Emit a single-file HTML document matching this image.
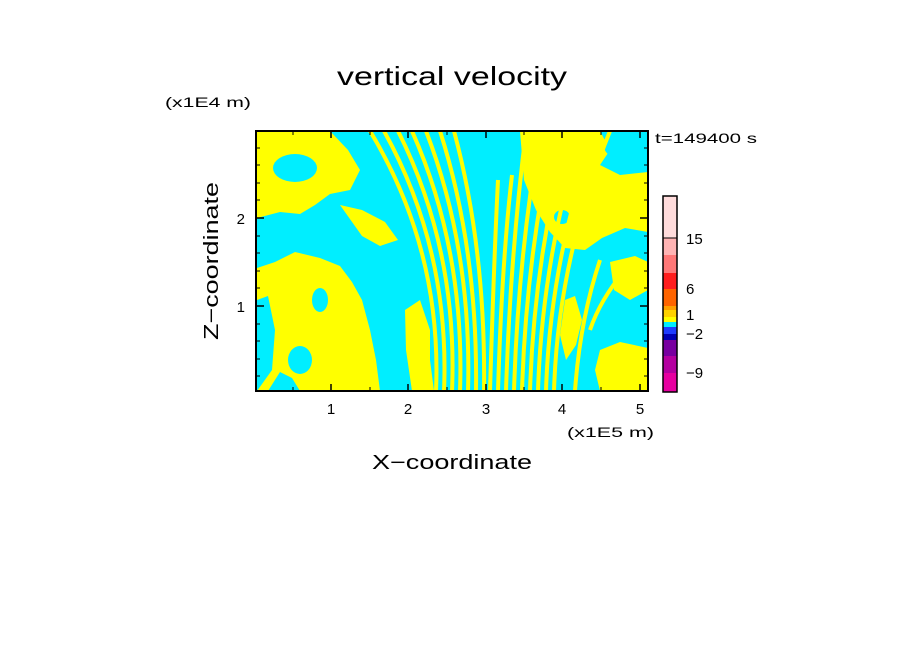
<!DOCTYPE html>
<html><head><style>
html,body{margin:0;padding:0;background:#fff;}
svg{display:block;font-family:"Liberation Sans","DejaVu Sans",sans-serif;}
</style></head><body>
<svg width="904" height="654" viewBox="0 0 904 654">
<defs><clipPath id="c"><rect x="256" y="131" width="392" height="260"/></clipPath></defs>
<g clip-path="url(#c)">
<rect x="256" y="131" width="392" height="260" fill="#00eeff"/>
<g fill="#ffff00">
<path d="M257,268 L275,262 295,252 320,258 340,266 352,282 362,300 370,330 376,360 380,391 L300,391 292,378 280,372 268,391 257,391 Z"/>
<path d="M257,131 L330,131 348,150 360,170 350,190 330,194 315,205 300,214 280,212 257,218 Z"/>
<path d="M340,205 L362,210 385,222 398,240 380,246 362,236 Z"/>
<path d="M520,131 L600,131 610,150 600,165 620,175 648,172 648,232 625,228 602,238 585,250 565,248 550,232 536,210 524,180 Z"/>
<path d="M600,350 L620,342 648,348 648,391 L600,391 595,370 Z"/>
<path d="M565,300 L575,296 582,320 576,345 566,360 560,335 Z"/>
<path d="M610,262 L635,256 648,262 648,290 630,300 614,290 Z"/>
<path d="M405,310 L420,300 430,330 430,360 434,391 L412,391 406,350 Z"/>
</g>
<g fill="#00eeff">
<ellipse cx="295" cy="168" rx="22" ry="14"/>
<ellipse cx="628" cy="146" rx="24" ry="15"/>
<ellipse cx="562" cy="217" rx="8" ry="7"/>
<path d="M257,300 L268,296 275,330 272,370 257,391 Z"/>
<ellipse cx="300" cy="360" rx="12" ry="14"/>
<ellipse cx="320" cy="300" rx="8" ry="12"/>
</g>
<g fill="none" stroke="#ffff00" stroke-width="4">
<path d="M436,391 Q442,250 370,131"/>
<path d="M444,391 Q450,250 384,131"/>
<path d="M452,391 Q458,250 398,131"/>
<path d="M460,391 Q465,250 412,131"/>
<path d="M468,391 Q472,250 426,131"/>
<path d="M476,391 Q478,250 440,131"/>
<path d="M484,391 Q486,250 454,131"/>
<path d="M490,391 Q494,260 498,180"/>
<path d="M498,391 Q502,260 512,175"/>
<path d="M506,391 Q510,260 526,131"/>
<path d="M514,391 Q518,260 540,131"/>
<path d="M522,391 Q526,260 554,131"/>
<path d="M530,391 Q534,260 568,131"/>
<path d="M538,391 Q542,260 582,131"/>
<path d="M546,391 Q550,260 596,131"/>
<path d="M554,391 Q558,260 610,131"/>
<path d="M575,391 Q580,320 600,260"/>
<path d="M590,330 Q600,300 625,270"/>
</g>
</g>
<rect x="256" y="131" width="392" height="260" fill="none" stroke="#000" stroke-width="2"/>
<g stroke="#000" stroke-width="1.5">
<line x1="331" y1="391" x2="331" y2="384"/><line x1="408" y1="391" x2="408" y2="384"/><line x1="486" y1="391" x2="486" y2="384"/><line x1="562" y1="391" x2="562" y2="384"/><line x1="640" y1="391" x2="640" y2="384"/>
<line x1="331" y1="131" x2="331" y2="138"/><line x1="408" y1="131" x2="408" y2="138"/><line x1="486" y1="131" x2="486" y2="138"/><line x1="562" y1="131" x2="562" y2="138"/><line x1="640" y1="131" x2="640" y2="138"/>
<line x1="256" y1="218" x2="264" y2="218"/><line x1="256" y1="306" x2="264" y2="306"/>
<line x1="648" y1="218" x2="640" y2="218"/><line x1="648" y1="306" x2="640" y2="306"/>
</g>
<g stroke="#000" stroke-width="1">
<path d="M256,376h4M256,359h4M256,341h4M256,324h4M256,288h4M256,271h4M256,253h4M256,236h4M256,200h4M256,183h4M256,165h4M256,148h4"/>
<path d="M648,376h-4M648,359h-4M648,341h-4M648,324h-4M648,288h-4M648,271h-4M648,253h-4M648,236h-4M648,200h-4M648,183h-4M648,165h-4M648,148h-4"/>
<path d="M293,391v-4M370,391v-4M447,391v-4M524,391v-4M601,391v-4M293,131v4M370,131v4M447,131v4M524,131v4M601,131v4"/>
</g>
<g font-size="15" fill="#000">
<text x="331" y="414" text-anchor="middle">1</text>
<text x="408" y="414" text-anchor="middle">2</text>
<text x="486" y="414" text-anchor="middle">3</text>
<text x="562" y="414" text-anchor="middle">4</text>
<text x="640" y="414" text-anchor="middle">5</text>
<text x="245" y="224" text-anchor="end">2</text>
<text x="245" y="312" text-anchor="end">1</text>
</g>
<text x="337" y="85" font-size="26" textLength="230" lengthAdjust="spacingAndGlyphs">vertical velocity</text>
<text x="165" y="107" font-size="14" textLength="86" lengthAdjust="spacingAndGlyphs">(x1E4 m)</text>
<text x="567" y="437" font-size="14" textLength="87" lengthAdjust="spacingAndGlyphs">(x1E5 m)</text>
<text x="372" y="469" font-size="20" textLength="160" lengthAdjust="spacingAndGlyphs">X−coordinate</text>
<text transform="translate(218,340) rotate(-90)" font-size="20" textLength="158" lengthAdjust="spacingAndGlyphs">Z−coordinate</text>
<text x="655" y="143" font-size="14" textLength="102" lengthAdjust="spacingAndGlyphs">t=149400 s</text>
<g>
<rect x="663" y="196" width="14" height="42" fill="#ffdcdc"/>
<rect x="663" y="238" width="14" height="17" fill="#ffb4b4"/>
<rect x="663" y="255" width="14" height="18" fill="#ff7878"/>
<rect x="663" y="273" width="14" height="16" fill="#ff1e1e"/>
<rect x="663" y="289" width="14" height="17" fill="#ff6400"/>
<rect x="663" y="306" width="14" height="4" fill="#ffa000"/>
<rect x="663" y="310" width="14" height="7" fill="#ffd200"/>
<rect x="663" y="317" width="14" height="5" fill="#ffff00"/>
<rect x="663" y="322" width="14" height="5" fill="#00eeff"/>
<rect x="663" y="327" width="14" height="7" fill="#1e3cff"/>
<rect x="663" y="334" width="14" height="6" fill="#0000b4"/>
<rect x="663" y="340" width="14" height="16" fill="#7800a0"/>
<rect x="663" y="356" width="14" height="17" fill="#b400a0"/>
<rect x="663" y="373" width="14" height="19" fill="#e600a0"/>
<rect x="663" y="196" width="14" height="196" fill="none" stroke="#000" stroke-width="1.5"/>
<line x1="663" y1="238" x2="677" y2="238" stroke="#000"/>
</g>
<g font-size="15" fill="#000">
<text x="686" y="244">15</text>
<text x="686" y="294">6</text>
<text x="686" y="320">1</text>
<text x="686" y="339">−2</text>
<text x="686" y="378">−9</text>
</g>
</svg>
</body></html>
